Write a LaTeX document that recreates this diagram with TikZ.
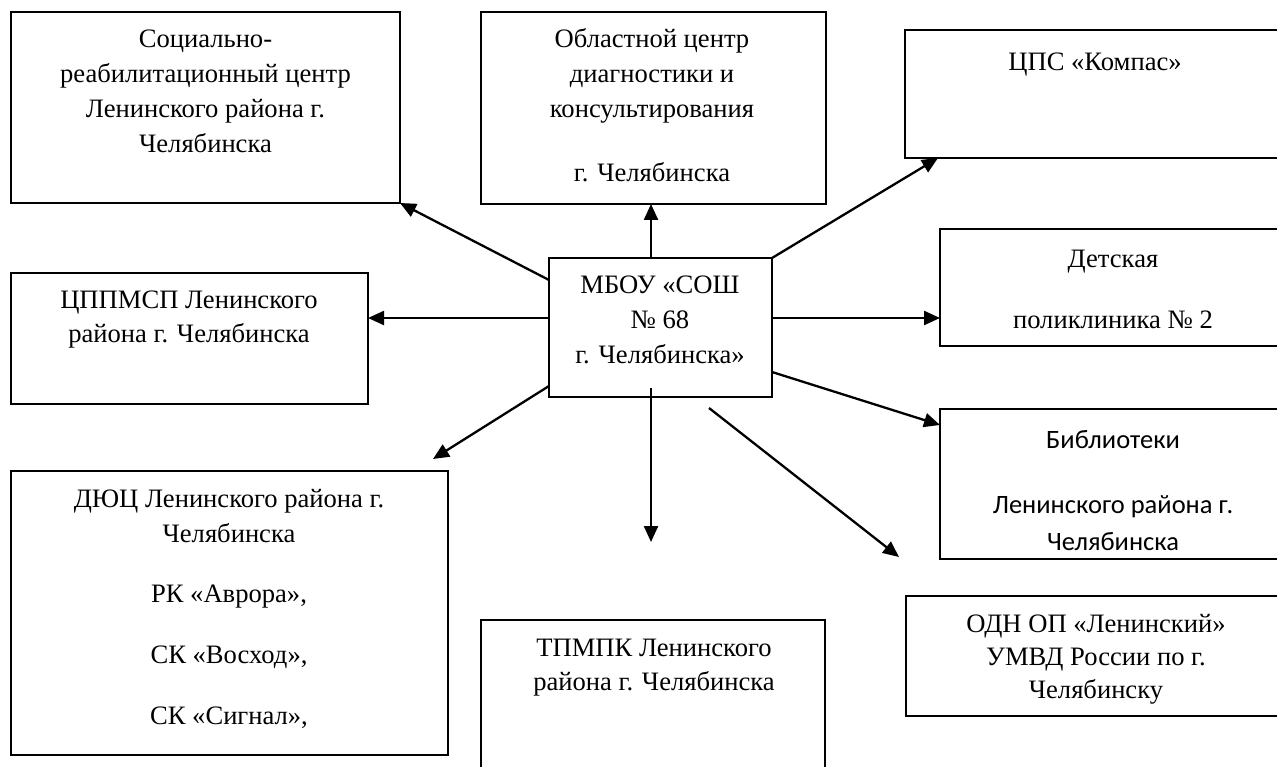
\documentclass[tikz,border=0pt]{standalone}
\usepackage{fontspec}
\setmainfont{Liberation Serif}
\newfontfamily\calib{Carlito}
\usetikzlibrary{calc,arrows.meta}
\begin{document}
\begin{tikzpicture}[x=1pt,y=-1pt,
  box/.style={draw=black,line width=1.9pt,inner sep=0pt,outer sep=0pt},
  lbl/.style={anchor=base,align=center,inner sep=0pt,font=\fontsize{26.6}{35}\selectfont},
  lbltight/.style={anchor=base,align=center,inner sep=0pt,font=\fontsize{26.6}{34}\selectfont},
  arr/.style={line width=2.3pt,-{Triangle[length=16pt,width=14pt]}}]
\useasboundingbox (0,0) rectangle (1277,767);
\clip (0,0) rectangle (1277,767);
% boxes
\node[box,minimum width=389pt,minimum height=191pt] (soc) at (205.5,107.5) {};
\node[box,minimum width=345pt,minimum height=192pt] (obl) at (653.5,108) {};
\node[box,minimum width=400pt,minimum height=128pt] (cps) at (1105,94) {};
\node[box,minimum width=357pt,minimum height=131pt] (cpp) at (189.5,338.5) {};
\node[box,minimum width=223pt,minimum height=139pt] (c) at (660.5,327.5) {};
\node[box,minimum width=360pt,minimum height=117pt] (det) at (1120,287.5) {};
\node[box,minimum width=360pt,minimum height=150pt] (bib) at (1120,484) {};
\node[box,minimum width=437pt,minimum height=284pt] (dyuc) at (229.5,613) {};
\node[box,minimum width=344pt,minimum height=200pt] (tpm) at (653,720) {};
\node[box,minimum width=394pt,minimum height=120pt] (odn) at (1103,656) {};
% texts (anchor=base is the baseline of the last line)
\node[lbl] (tsoc) at (205.5,153) {Социально-\\реабилитационный центр\\Ленинского района г.\\Челябинска};
\node[lbl] (tobl) at (652,182) {Областной центр\\диагностики и\\консультирования\\[29pt]г. Челябинска};
\node[lbl] (tcps) at (1095,71) {ЦПС «Компас»};
\node[lbltight] (tcpp) at (189,342) {ЦППМСП Ленинского\\района г. Челябинска};
\node[lbl] (tc) at (660,363) {МБОУ «СОШ\\№ 68\\г. Челябинска»};
\node[lbl] (tdet) at (1113,329) {Детская\\[27pt]поликлиника № 2};
\node[anchor=base,align=center,inner sep=0pt,font=\calib\fontsize{26.5}{37}\selectfont] (tbib) at (1113,550) {Библиотеки\\[28pt]Ленинского района г.\\Челябинска};
\node[lbl] (tdyuc) at (229,724) {ДЮЦ Ленинского района г.\\Челябинска\\[25pt]РК «Аврора»,\\[26pt]СК «Восход»,\\[26pt]СК «Сигнал»,};
\node[lbltight] (ttpm) at (654,690) {ТПМПК Ленинского\\района г. Челябинска};
\node[anchor=base,align=center,inner sep=0pt,font=\fontsize{26.6}{33}\selectfont] (todn) at (1096,698) {ОДН ОП «Ленинский»\\УМВД России по г.\\Челябинску};
% connectors
\draw[arr] ($(c.north west)+(0,22)$) -- (soc.south east);
\draw[arr] ($(c.north)+(-9.5,0)$) coordinate (pu) -- (pu |- obl.south);
\draw[arr] (c.north east) -- ($(cps.south west)+(33,0)$);
\draw[arr] ($(c.west)+(0,-9.5)$) coordinate (pl) -- (pl -| cpp.east);
\draw[arr] ($(c.east)+(0,-9.5)$) coordinate (pr) -- (pr -| det.west);
\draw[arr] ($(c.east)+(0,44.5)$) -- ($(bib.north west)+(0,16)$);
\draw[arr] ($(c.west)+(0,58.5)$) -- ($(dyuc.north east)+(-15,-12)$);
\coordinate (dend) at (651,542);
\draw[arr] ($(c.south)+(-9.5,-9)$) -- (dend);
\coordinate (ostart) at (709,408);
\coordinate (oend) at (899,557);
\draw[arr] (ostart) -- (oend);
\end{tikzpicture}
\end{document}
